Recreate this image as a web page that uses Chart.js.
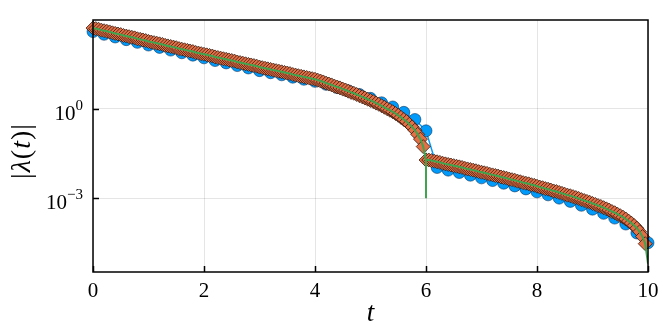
<!DOCTYPE html>
<html>
<head>
<meta charset="utf-8">
<script src="https://cdn.jsdelivr.net/npm/chart.js@4"></script>
<style>
  html, body { margin: 0; padding: 0; background: #fff; }
  canvas { display: block; }
</style>
</head>
<body>
<canvas id="chart" width="667" height="334"></canvas>
<script>
// log10 |lambda(t)| for the diamonds, t = 0, 0.05, ..., 9.95
const diamondStep = 0.05;
const logDiamond = [
  2.71, 2.69, 2.67, 2.64, 2.62, 2.60, 2.58, 2.55, 2.53, 2.51,
  2.49, 2.46, 2.44, 2.42, 2.40, 2.38, 2.35, 2.33, 2.31, 2.29,
  2.26, 2.24, 2.22, 2.20, 2.18, 2.16, 2.13, 2.11, 2.09, 2.07,
  2.05, 2.02, 2.00, 1.98, 1.96, 1.94, 1.92, 1.89, 1.87, 1.85,
  1.83, 1.81, 1.79, 1.77, 1.74, 1.72, 1.70, 1.68, 1.66, 1.64,
  1.62, 1.60, 1.57, 1.55, 1.53, 1.51, 1.49, 1.47, 1.45, 1.43,
  1.40, 1.38, 1.36, 1.34, 1.32, 1.30, 1.28, 1.26, 1.24, 1.22,
  1.20, 1.18, 1.15, 1.13, 1.11, 1.09, 1.07, 1.05, 1.03, 1.01,
  0.99, 0.96, 0.93, 0.90, 0.86, 0.83, 0.80, 0.76, 0.73, 0.70,
  0.66, 0.63, 0.59, 0.55, 0.52, 0.48, 0.44, 0.40, 0.36, 0.32,
  0.28, 0.24, 0.19, 0.15, 0.10, 0.05, 0.00, -0.05, -0.10, -0.16,
  -0.22, -0.29, -0.36, -0.43, -0.52, -0.61, -0.72, -0.86, -1.02, -1.27,
  -1.72, -1.72, -1.74, -1.76, -1.78, -1.80, -1.83, -1.85, -1.87, -1.89,
  -1.91, -1.93, -1.95, -1.97, -2.00, -2.02, -2.04, -2.06, -2.08, -2.11,
  -2.13, -2.15, -2.17, -2.20, -2.22, -2.24, -2.26, -2.29, -2.31, -2.33,
  -2.36, -2.38, -2.40, -2.43, -2.45, -2.48, -2.50, -2.52, -2.55, -2.57,
  -2.60, -2.63, -2.65, -2.68, -2.70, -2.73, -2.76, -2.78, -2.81, -2.84,
  -2.87, -2.90, -2.92, -2.95, -2.98, -3.01, -3.05, -3.08, -3.11, -3.14,
  -3.18, -3.21, -3.25, -3.28, -3.32, -3.36, -3.40, -3.45, -3.49, -3.54,
  -3.59, -3.64, -3.70, -3.77, -3.84, -3.92, -4.01, -4.13, -4.29, -4.53
];

// log10 |lambda(t)| for the circles, t = 0, 0.2, ..., 10
const circleStep = 0.2;
const logCircle = [
  2.59, 2.50, 2.41, 2.32, 2.23, 2.14, 2.06, 1.97, 1.88, 1.80,
  1.71, 1.62, 1.54, 1.45, 1.37, 1.28, 1.21, 1.14, 1.06, 0.99,
  0.92, 0.82, 0.71, 0.60, 0.48, 0.35, 0.20, 0.06, -0.12, -0.36,
  -0.74, -1.97, -2.06, -2.14, -2.23, -2.32, -2.41, -2.50, -2.59, -2.69,
  -2.79, -2.89, -3.00, -3.11, -3.24, -3.37, -3.51, -3.67, -3.87, -4.17,
  -4.50
];

// green line: follows the diamonds, dips at t = 6 and ends at t = 10
const lineDipT = 6;
const logLineDip = -3.0;
const lineEndT = 10;
const logLineEnd = -5.2;

const xTicks = [0, 2, 4, 6, 8, 10];
const yTickExp = [-3, 0];
const yMinExp = -5.48;
const yMaxExp = 2.98;

const serif = '"Liberation Serif", "Times New Roman", serif';

const diamondPts = logDiamond.map((v, i) => ({ x: +(i * diamondStep).toFixed(2), y: 10 ** v }));
const circlePts = logCircle.map((v, i) => ({ x: +(i * circleStep).toFixed(1), y: 10 ** v }));
const linePts = [];
diamondPts.forEach(p => {
  linePts.push(p);
  if (p.x === lineDipT) {
    linePts.push({ x: lineDipT, y: 10 ** logLineDip });
    linePts.push({ x: lineDipT, y: p.y });
  }
});
linePts.push({ x: lineEndT, y: 10 ** logLineEnd });

const framePlugin = {
  id: 'frame',
  afterDraw(chart) {
    const { ctx, chartArea: a, scales: { x, y } } = chart;
    ctx.save();
    ctx.strokeStyle = '#000';
    ctx.lineWidth = 1.5;
    ctx.beginPath();
    xTicks.forEach(v => {
      const px = Math.round(x.getPixelForValue(v)) + 0.5;
      ctx.moveTo(px, a.bottom);
      ctx.lineTo(px, a.bottom - 6);
    });
    yTickExp.forEach(e => {
      const py = Math.round(y.getPixelForValue(10 ** e)) + 0.5;
      ctx.moveTo(a.left, py);
      ctx.lineTo(a.left + 6, py);
    });
    ctx.stroke();
    ctx.strokeRect(a.left, a.top, a.right - a.left, a.bottom - a.top);

    // y tick labels 10^e
    ctx.fillStyle = '#000';
    ctx.textAlign = 'left';
    ctx.textBaseline = 'alphabetic';
    yTickExp.forEach(e => {
      const py = y.getPixelForValue(10 ** e);
      const expText = e < 0 ? '\u2212' + (-e) : String(e);
      ctx.font = '21px ' + serif;
      const baseW = ctx.measureText('10').width;
      ctx.font = '15px ' + serif;
      const expW = ctx.measureText(expText).width;
      const right = a.left - 10;
      ctx.font = '21px ' + serif;
      ctx.fillText('10', right - expW - baseW, py + 11);
      ctx.font = '15px ' + serif;
      ctx.fillText(expText, right - expW, py + 1);
    });

    // x title
    ctx.font = 'italic 27px ' + serif;
    ctx.textAlign = 'center';
    ctx.fillText('t', (a.left + a.right) / 2, 321);

    // y title |λ(t)|
    const parts = [
      ['|', ''], ['\u03bb', 'italic '], ['(', ''], ['t', 'italic '], [')', ''], ['|', '']
    ];
    ctx.save();
    ctx.translate(30, 151);
    ctx.rotate(-Math.PI / 2);
    ctx.textAlign = 'left';
    let total = 0;
    parts.forEach(([s, st]) => { ctx.font = st + '28px ' + serif; total += ctx.measureText(s).width + 1; });
    let cx = -total / 2;
    parts.forEach(([s, st]) => {
      ctx.font = st + '28px ' + serif;
      ctx.fillText(s, cx, 0);
      cx += ctx.measureText(s).width + 1;
    });
    ctx.restore();
    ctx.restore();
  }
};

new Chart(document.getElementById('chart'), {
  type: 'line',
  data: {
    datasets: [
      {
        data: linePts,
        borderColor: '#3EA44E',
        borderWidth: 2,
        pointRadius: 0,
        tension: 0,
        order: 1
      },
      {
        data: diamondPts,
        showLine: false,
        pointStyle: 'rectRot',
        pointRadius: 7,
        pointBackgroundColor: '#E36F47',
        pointBorderColor: 'rgba(35,15,5,0.9)',
        pointBorderWidth: 0.8,
        clip: false,
        order: 2
      },
      {
        data: circlePts,
        borderColor: '#009AFA',
        borderWidth: 1.5,
        pointStyle: 'circle',
        pointRadius: 6,
        pointBackgroundColor: '#009AFA',
        pointBorderColor: 'rgba(0,40,80,0.9)',
        pointBorderWidth: 0.6,
        tension: 0,
        clip: false,
        order: 3
      }
    ]
  },
  options: {
    responsive: false,
    animation: false,
    layout: { padding: { top: 20, right: 19, left: 0, bottom: 0 } },
    plugins: { legend: { display: false }, tooltip: { enabled: false } },
    scales: {
      x: {
        type: 'linear',
        min: 0,
        max: 10,
        afterBuildTicks: axis => { axis.ticks = xTicks.map(v => ({ value: v })); },
        afterFit: axis => { axis.height = 62; },
        ticks: {
          color: '#000',
          padding: 7,
          font: { family: serif, size: 21 },
          maxRotation: 0
        },
        grid: { color: 'rgba(0,0,0,0.1)', drawTicks: false },
        border: { display: false }
      },
      y: {
        type: 'logarithmic',
        min: 10 ** yMinExp,
        max: 10 ** yMaxExp,
        afterBuildTicks: axis => { axis.ticks = yTickExp.map(e => ({ value: 10 ** e })); },
        afterFit: axis => { axis.width = 93; },
        ticks: { display: false },
        grid: { color: 'rgba(0,0,0,0.1)', drawTicks: false },
        border: { display: false }
      }
    }
  },
  plugins: [framePlugin]
});
</script>
</body>
</html>
